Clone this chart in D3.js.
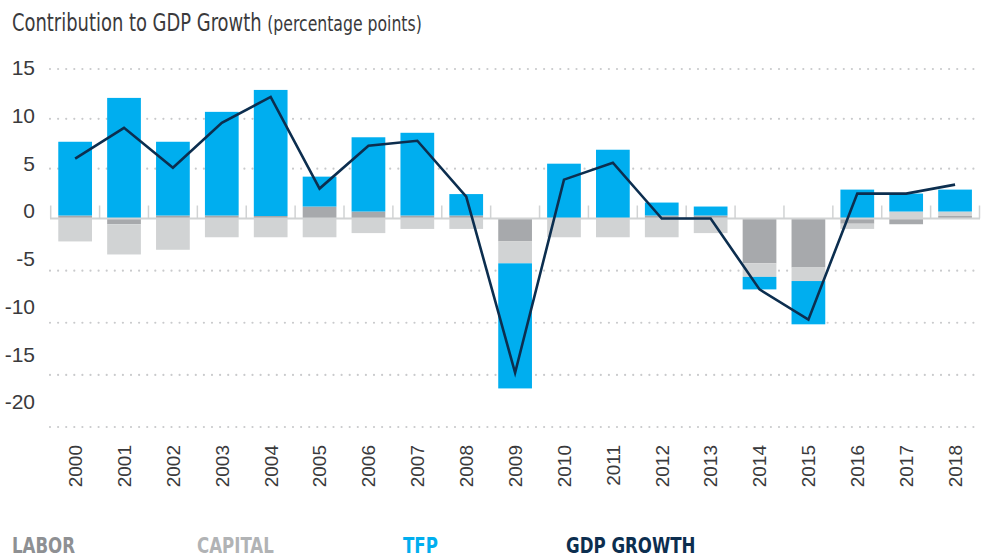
<!DOCTYPE html>
<html>
<head>
<meta charset="utf-8">
<script src="https://cdn.jsdelivr.net/npm/d3@7"></script>
<style>
  body { margin: 0; background: #fff; }
  svg { display: block; font-family: "Liberation Sans Narrow", "DejaVu Sans Condensed", "Roboto", sans-serif; }
</style>
</head>
<body>
<div id="chart"></div>
<script>
const years = ["2000","2001","2002","2003","2004","2005","2006","2007","2008","2009",
               "2010","2011","2012","2013","2014","2015","2016","2017","2018"];
const labor   = [0.3, -0.55, 0.3, 0.3, 0.25, 1.2, 0.7, 0.3, 0.3, -2.2, 0, 0, 0.3, 0.3, -4.3, -4.7, -0.5, -0.55, 0.25];
const capital = [-2.2, -2.9, -3.0, -1.8, -1.8, -1.8, -1.4, -1.0, -1.0, -2.1, -1.8, -1.8, -1.8, -1.4, -1.3, -1.3, -0.5, 0.7, 0.45];
const tfp     = [7.4, 12.1, 7.4, 10.4, 12.65, 3.0, 7.45, 8.3, 2.15, -12.0, 5.5, 6.9, 1.3, 0.9, -1.2, -4.15, 2.9, 1.8, 2.2];
const gdp     = [6.0, 9.1, 5.1, 9.6, 12.2, 3.0, 7.3, 7.8, 2.2, -14.8, 3.9, 5.6, 0.0, 0.0, -6.8, -9.7, 2.5, 2.5, 3.4];
const yTicks  = [15, 10, 5, 0, -5, -10, -15, -20];
const legendLabels = ["LABOR", "CAPITAL", "TFP", "GDP GROWTH"];

const width = 988, height = 558;
const colors = { labor: "#a7a9ac", capital: "#d1d3d4", tfp: "#00aeef", gdp: "#0c2e4f" };

const svg = d3.select("#chart").append("svg")
  .attr("width", width)
  .attr("height", height);

// title (font here is wider than the original, so squeeze it a little)
const title = svg.append("text")
  .attr("transform", "translate(12,31) scale(0.83,1)")
  .attr("fill", "#3a3a3c")
  .style("font-size", "24px");
title.append("tspan").text("Contribution to GDP Growth ");
title.append("tspan").style("font-size", "21px").text("(percentage points)");

const x = d3.scaleBand()
  .domain(years)
  .range([50.7, 979.5])
  .paddingInner(0.31)
  .paddingOuter(0.155);

// grid lines sit slightly wider apart below zero than above it
const y = d3.scaleLinear()
  .domain([-20, 0, 15])
  .range([427, 218.5, 69]);

// tick labels in the original are spaced evenly, a bit off the grid
const yLabel = d3.scaleLinear()
  .domain([-20, 15])
  .range([402, 68]);

// dotted grid
svg.append("g")
  .selectAll("line")
  .data(yTicks.filter(d => d !== 0))
  .join("line")
  .attr("x1", 50)
  .attr("x2", 981)
  .attr("y1", d => y(d))
  .attr("y2", d => y(d))
  .attr("stroke", "#c9cacc")
  .attr("stroke-width", 2.2)
  .attr("stroke-linecap", "round")
  .attr("stroke-dasharray", "0,8.1");

// y labels
const yAxis = svg.append("g")
  .attr("transform", "translate(35,0)")
  .call(d3.axisLeft(yLabel).tickValues(yTicks).tickSize(0).tickPadding(0).tickFormat(d => String(d)));
yAxis.select(".domain").remove();
yAxis.selectAll("text")
  .attr("fill", "#3a3a3c")
  .style("font-size", "21px")
  .style("font-family", "inherit");

// stacked bars
const rows = years.map((yr, i) => ({ year: yr, labor: labor[i], capital: capital[i], tfp: tfp[i] }));
const series = d3.stack()
  .keys(["labor", "capital", "tfp"])
  .offset(d3.stackOffsetDiverging)(rows);

svg.append("g")
  .selectAll("g")
  .data(series)
  .join("g")
  .attr("fill", d => colors[d.key])
  .selectAll("rect")
  .data(d => d)
  .join("rect")
  .attr("x", d => x(d.data.year))
  .attr("width", x.bandwidth())
  .attr("y", d => y(Math.max(d[0], d[1])))
  .attr("height", d => Math.abs(y(d[0]) - y(d[1])));

// baseline with tick marks between categories
const base = svg.append("g");
base.append("line")
  .attr("x1", 50)
  .attr("x2", 980)
  .attr("y1", y(0))
  .attr("y2", y(0))
  .attr("stroke", "#d1d3d4")
  .attr("stroke-width", 2);
const bounds = years.map(d => x(d) - x.step() * x.paddingInner() / 2)
  .concat([x(years[years.length - 1]) + x.bandwidth() + x.step() * x.paddingInner() / 2]);
base.selectAll(".tick")
  .data(bounds)
  .join("line")
  .attr("x1", d => d)
  .attr("x2", d => d)
  .attr("y1", y(0))
  .attr("y2", y(0) - 13)
  .attr("stroke", "#d1d3d4")
  .attr("stroke-width", 1.5);

// gdp line
const line = d3.line()
  .x((d, i) => x(years[i]) + x.bandwidth() / 2)
  .y(d => y(d));
svg.append("path")
  .datum(gdp)
  .attr("fill", "none")
  .attr("stroke", colors.gdp)
  .attr("stroke-width", 2.6)
  .attr("stroke-linejoin", "miter")
  .attr("d", line);

// year labels
const xAxis = svg.append("g")
  .attr("transform", "translate(0,445)")
  .call(d3.axisBottom(x).tickSize(0).tickPadding(0));
xAxis.select(".domain").remove();
xAxis.selectAll("text")
  .attr("transform", "rotate(-90)")
  .attr("x", 0)
  .attr("y", 0)
  .attr("dy", "0.36em")
  .attr("text-anchor", "end")
  .attr("fill", "#3a3a3c")
  .style("font-size", "19px")
  .style("font-family", "inherit");

// legend
const legendX = [12, 197, 403, 566];
const legendColors = ["#8e9093", "#b1b3b5", "#00aeef", "#0c2e4f"];
svg.append("g")
  .selectAll("text")
  .data(legendLabels)
  .join("text")
  .attr("transform", (d, i) => `translate(${legendX[i]},553) scale(0.88,1)`)
  .attr("fill", (d, i) => legendColors[i])
  .style("font-size", "21px")
  .style("font-weight", "bold")
  .text(d => d);
</script>
</body>
</html>
